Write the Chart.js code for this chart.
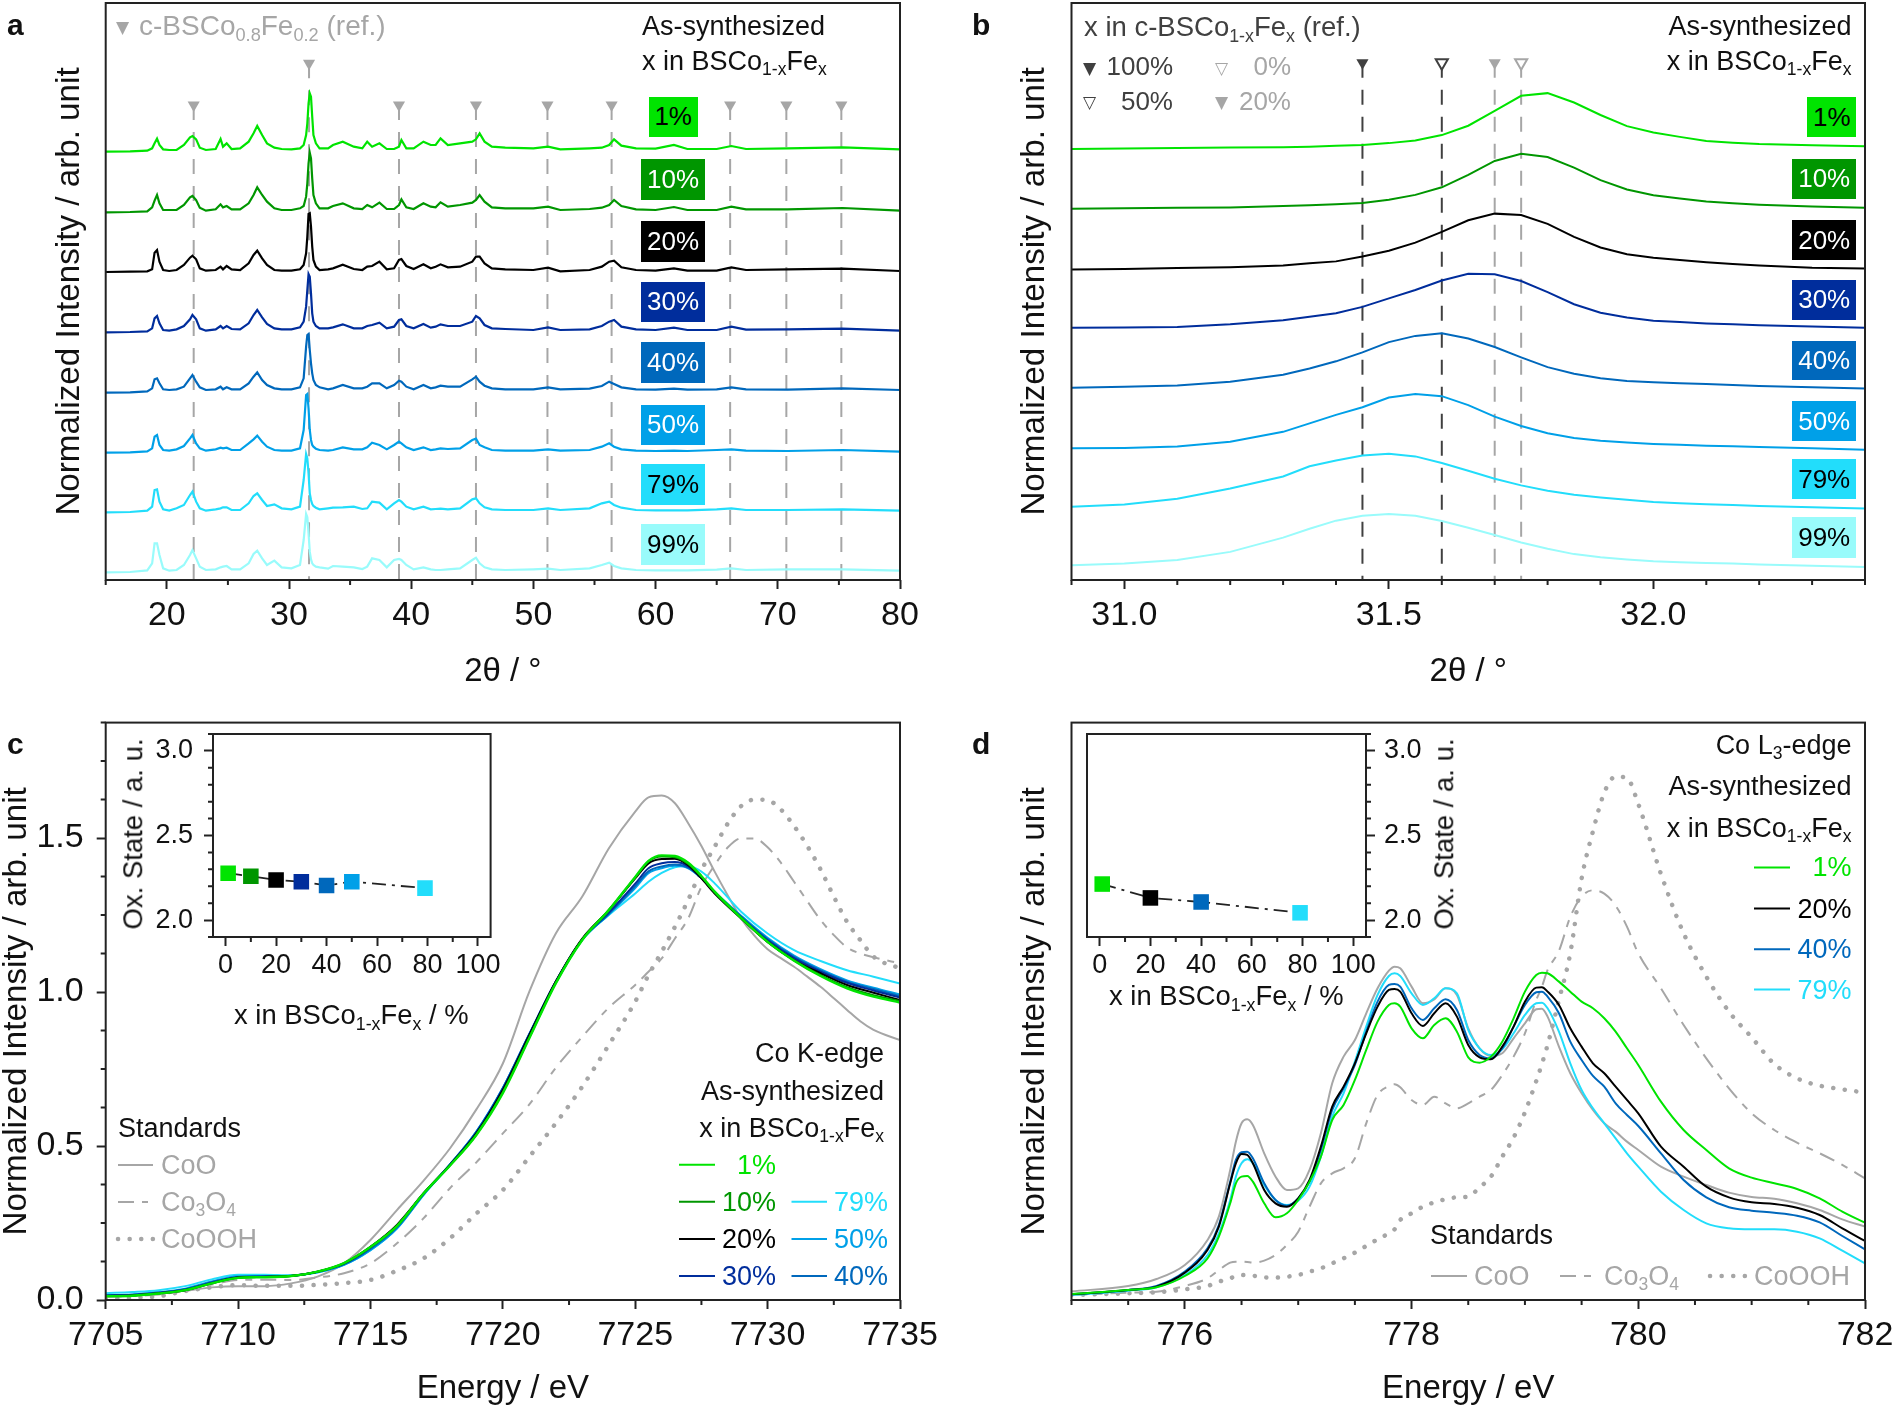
<!DOCTYPE html>
<html>
<head>
<meta charset="utf-8">
<title>BSCo1-xFex</title>
<script src="https://cdn.jsdelivr.net/npm/chart.js@4"></script>
<style>
  html, body { margin: 0; background: #fff; }
  #page { position: relative; width: 1894px; height: 1409px; overflow: hidden; font-family: "Liberation Sans", Arial, sans-serif; color: #111; }
  canvas { position: absolute; }
  .txt { position: absolute; white-space: nowrap; line-height: 1; }
  .txt sub { font-size: 65%; vertical-align: -0.32em; line-height: 0; }
  .tag { position: absolute; display: flex; align-items: center; justify-content: center; font-size: 26px; }
  #swatches { position: absolute; left: 0; top: 0; }
</style>
</head>
<body>
<div id="page"><svg id="swatches" width="1894" height="1409"></svg></div>
<script>
const samplesXrd = ["1%", "10%", "20%", "30%", "40%", "50%", "79%", "99%"];
const colorsXrd = ["#00e400", "#009600", "#000000", "#002d9c", "#0068bc", "#00a0e8", "#22ddfb", "#99fbfb"];
const tagText = ["#000", "#fff", "#fff", "#fff", "#fff", "#fff", "#000", "#000"];

// panel a, 2 theta and height above each trace's baseline (arb. unit)
const xXrd = [15,17,18.4,18.8,19, 19.2,19.4,19.7,20.2,20.8, 21.4,21.9,22.1,22.4,22.7, 23.2,24,24.4,24.6,24.9,
  25.3,26,26.7,27.1,27.4, 27.8,28.2,28.8,29.4,30.2, 30.9,31.2,31.4,31.5,31.6, 31.7,31.8,31.9,32,32.2,
  32.5,33.2,33.6,34.4,35.3, 36,36.4,36.8,37.4,38, 38.6,39,39.2,39.6,40.2, 41,41.6,42,42.4,43,
  44,45,45.3,45.6,46, 46.6,47.7,50,51.2,52.2, 54.6,55.6,56.2,56.6,57.2, 58.4,60,61.5,62.6,65, 66.2,67.4,70.8,75.3,80];
const xrd1 = [0,1,3,10,25, 39,20,7,5,5, 20,43,47,37,12, 5,8,38,15,25,
  8,10,30,55,77, 50,25,12,8,7, 10,20,50,85,145, 175,165,105,50,25,
  10,10,20,30,15, 10,30,15,25,8, 8,15,35,10,10, 30,20,20,40,20,
  25,30,37,55,30, 15,12,10,15,7, 10,12,20,37,18, 10,9,20,8,8, 17,8,10,13,7];
const xrd10 = [0,1,3,15,35, 52,27,7,7,7, 22,45,49,37,14, 5,9,24,15,19,
  9,9,27,52,75, 52,32,12,7,7, 12,19,47,87,147, 179,162,102,52,27,
  12,12,19,27,12, 10,22,15,29,10, 10,22,39,15,10, 27,17,15,30,17,
  22,29,37,52,32, 15,12,12,17,7, 10,14,22,37,19, 9,7,16,7,7, 17,9,9,13,5];
const xrd20 = [0,1,2,8,58, 66,31,6,3,6, 21,43,49,38,11, 4,6,16,8,18,
  8,6,26,51,64, 41,21,6,4,4, 8,21,56,106,174, 176,136,76,36,16,
  6,8,11,22,9, 6,16,18,31,8, 11,36,39,18,9, 23,11,16,23,14,
  16,31,46,46,26, 11,8,6,13,2, 6,16,31,34,14, 6,4,11,4,4, 14,6,8,10,3];
const xrd30 = [0,1,3,12,42, 49,27,7,5,9, 19,39,52,39,12, 5,9,19,12,19,
  10,9,27,52,67, 45,25,12,9,9, 15,32,77,127,175, 167,117,57,32,19,
  12,12,15,24,12, 12,19,22,29,12, 17,37,39,19,12, 25,14,17,24,19,
  19,32,49,42,22, 12,10,7,15,7, 9,19,32,37,17, 9,7,14,7,7, 17,8,9,11,5];
const xrd40 = [0,1,4,13,40, 43,28,10,8,10, 18,43,53,33,16, 8,10,18,10,16,
  10,10,28,48,61, 38,23,13,10,10, 16,43,138,173,176, 128,88,58,38,23,
  16,10,13,23,13, 13,18,28,28,13, 23,36,33,18,10, 23,13,16,21,18,
  18,40,48,33,21, 13,10,10,16,10, 12,20,33,26,16, 10,9,12,9,10, 16,10,9,13,8];
const xrd50 = [0,1,4,13,48, 53,23,8,6,10, 20,43,53,28,13, 6,10,15,13,15,
  8,8,28,40,51, 33,18,8,6,6, 13,68,173,176,133, 68,38,23,18,12,
  8,6,8,16,10, 10,16,30,23,10, 23,33,28,16,8, 16,8,10,13,11,
  13,38,42,23,16, 8,6,6,10,6, 8,18,28,18,10, 6,5,6,5,8, 10,6,5,8,3];
const xrd79 = [0,1,5,17,67, 69,32,9,5,12, 22,52,62,32,12, 5,9,12,15,15,
  7,7,27,49,57, 37,19,24,12,9, 17,97,175,162,117, 57,37,25,19,14,
  9,12,14,15,17, 10,12,32,29,9, 27,37,32,17,9, 17,9,10,11,9,
  12,39,42,27,15, 9,7,7,12,7, 12,27,32,22,14, 7,6,6,6,9, 12,7,7,9,5];
const xrd99 = [0,1,6,27,87, 87,52,12,5,7, 22,52,67,42,17, 7,9,15,17,19,
  9,9,27,55,65, 42,22,35,15,12, 22,97,175,165,117, 62,39,27,22,17,
  15,11,19,17,15, 10,17,42,37,15, 37,40,37,22,9, 15,9,7,7,9,
  12,37,44,27,15, 9,7,9,11,7, 12,22,29,19,12, 7,6,6,6,8, 12,7,9,9,5];
const offsetsXrd = [1285, 1103, 924, 743, 562, 382, 203, 23];
const refsXrd = [22.2, 31.64, 39.0, 45.3, 51.15, 56.4, 66.1, 70.7, 75.2];
const refTopXrd = [1425, 1550, 1425, 1425, 1425, 1425, 1425, 1425, 1425];

// panel b, zoom on the main reflection
const xZoom = [30.9,31.0,31.1,31.2,31.3,31.35,31.4,31.45,31.5,31.55,31.6,31.65,31.7,31.75,31.8,31.85,31.9,31.95,32.0,32.05,32.1,32.15,32.2,32.3,32.4];
const zoom1 = [966,967,968,969,970,971,973,975,979,985,997,1018,1051,1085,1091,1070,1042,1017,1003,993,984,980,977,974,972];
const zoom10 = [832,833,834,835,838,840,842,845,852,863,880,908,939,955,948,924,896,875,862,855,848,844,841,837,834];
const zoom20 = [696,697,699,701,705,710,714,725,738,756,780,806,821,818,798,769,745,730,722,717,712,708,705,700,698];
const zoom30 = [565,566,567,573,582,590,598,612,631,650,671,686,685,670,645,618,599,588,581,578,575,573,571,568,565];
const zoom40 = [431,433,436,444,460,474,490,510,533,547,553,541,522,499,477,462,452,446,443,441,439,437,435,432,429];
const zoom50 = [295,296,299,310,332,351,370,387,409,417,412,392,366,345,329,318,312,308,305,303,301,300,298,295,292];
const zoom79 = [164,169,182,205,232,255,268,279,283,277,262,245,227,212,200,191,185,180,175,172,170,168,166,163,160];
const zoom99 = [33,37,45,63,95,115,133,144,148,144,132,117,101,84,70,58,51,46,42,40,38,37,35,32,29];
const refsZoom = [31.45, 31.6, 31.7, 31.75];
const refTopZoom = 1159;

// panel c, Co K-edge
const xKedge = [7705,7706,7707,7708,7709,7710,7711,7712,7713,7714,7715,7716,7717,7718,7719,7720,7721,7722,7723,7724,
  7725,7725.5,7726,7726.5,7727,7727.5,7728,7729,7730,7731,7732,7733,7734,7735];
const k1 = [.012,.014,.021,.032,.054,.072,.074,.078,.092,.120,.172,.240,.345,.436,.536,.672,.850,1.028,1.169,1.266,
  1.374,1.426,1.444,1.442,1.420,1.377,1.326,1.241,1.163,1.102,1.052,1.012,.985,.966];
const k10 = [.012,.014,.021,.032,.054,.072,.075,.078,.092,.120,.172,.241,.346,.437,.537,.675,.853,1.030,1.171,1.266,
  1.372,1.424,1.440,1.438,1.416,1.374,1.324,1.240,1.163,1.103,1.055,1.016,.990,.971];
const k20 = [.013,.015,.022,.032,.054,.073,.075,.078,.092,.119,.173,.244,.346,.438,.541,.682,.860,1.034,1.174,1.266,
  1.369,1.418,1.432,1.433,1.412,1.369,1.320,1.239,1.163,1.104,1.061,1.023,.998,.974];
const k30 = [.014,.016,.023,.034,.056,.074,.076,.078,.092,.118,.170,.240,.345,.439,.544,.686,.862,1.034,1.172,1.258,
  1.352,1.402,1.418,1.422,1.408,1.370,1.323,1.243,1.168,1.110,1.066,1.030,1.005,.982];
const k40 = [.015,.017,.024,.035,.058,.075,.077,.079,.091,.116,.166,.236,.343,.440,.546,.688,.864,1.034,1.170,1.254,
  1.344,1.392,1.408,1.414,1.404,1.370,1.324,1.245,1.172,1.114,1.070,1.034,1.010,.987];
const k50 = [.016,.018,.025,.037,.060,.077,.078,.079,.090,.114,.162,.232,.341,.440,.547,.689,.864,1.033,1.170,1.252,
  1.338,1.386,1.402,1.410,1.402,1.370,1.326,1.248,1.176,1.118,1.074,1.038,1.014,.992];
const k79 = [.022,.026,.032,.045,.067,.082,.082,.080,.089,.114,.162,.233,.341,.438,.547,.687,.858,1.030,1.169,1.250,
  1.320,1.358,1.387,1.405,1.409,1.391,1.353,1.261,1.190,1.136,1.101,1.071,1.050,1.028];
const xKstd = [7705,7706,7707,7708,7709,7710,7711,7712,7713,7714,7715,7716,7717,7718,7719,7720,7721,7722,7723,7724,
  7725,7725.5,7726,7726.5,7727,7727.5,7728,7728.5,7729,7729.5,7730,7730.5,7731,7731.5,7732,7732.5,7733,7733.5,7734,7735];
const kCoO = [.013,.014,.022,.030,.041,.045,.045,.054,.076,.119,.195,.292,.387,.492,.619,.768,1.001,1.190,1.310,1.466,
  1.586,1.632,1.638,1.613,1.548,1.474,1.391,1.313,1.239,1.183,1.139,1.110,1.082,1.050,1.017,.980,.942,.905,.877,.844];
const kCo3O4 = [.011,.013,.018,.030,.050,.065,.066,.065,.073,.087,.119,.184,.265,.363,.447,.541,.635,.754,.855,.949,
  1.023,1.066,1.109,1.174,1.239,1.342,1.412,1.470,1.499,1.499,1.470,1.420,1.358,1.295,1.234,1.185,1.145,1.125,1.113,1.093];
const kCoOOH = [.005,.007,.012,.029,.041,.048,.046,.046,.049,.055,.065,.095,.135,.200,.281,.357,.465,.574,.693,.828,
  .969,1.055,1.131,1.212,1.299,1.396,1.472,1.548,1.604,1.625,1.623,1.593,1.539,1.474,1.398,1.310,1.228,1.169,1.115,1.077];
const oxKx = [1, 10, 20, 30, 40, 50, 79];
const oxKy = [2.277, 2.259, 2.237, 2.227, 2.205, 2.227, 2.189];
const oxKcolors = ["#00e400", "#009600", "#000000", "#002d9c", "#0068bc", "#00a0e8", "#22ddfb"];

// panel d, Co L3-edge
const xLedge = [775,775.5,775.75,776,776.2, 776.3,776.4,776.45,776.5,776.55, 776.6,776.7,776.8,776.9,777,
  777.1,777.2,777.3,777.4,777.5, 777.6,777.7,777.8,777.85,777.9, 778,778.1,778.2,778.3,778.4,
  778.5,778.6,778.7,778.8,778.9, 779,779.1,779.15,779.2,779.3, 779.4,779.5,779.6,779.7,779.8,
  779.9,780,780.2,780.4,780.6, 780.8,781,781.2,781.4,781.6, 781.8,782];
const l1 = [18,30,38,72,125, 190,290,350,370,372, 355,290,248,260,300, 355,430,540,585,660, 750,835,885,890,880,
  815,785,825,845,805, 728,712,730,775,845, 925,975,982,980,955, 925,895,875,845,805, 755,705,595,510,450, 395,367,350,333,305, 265,232];
const l20 = [17,30,40,82,150, 220,350,410,438,435, 410,330,290,280,305, 360,460,580,640,710, 800,880,930,933,925,
  860,822,860,890,850, 765,728,722,760,820, 895,937,938,925,885, 815,760,710,680,640, 600,560,460,400,340, 308,293,288,277,255, 215,177];
const l40 = [17,30,42,85,155, 225,355,420,443,445, 425,350,300,283,305, 355,450,570,635,705, 805,895,945,948,940,
  875,840,875,902,870, 780,735,725,755,820, 885,923,925,910,860, 775,720,672,640,590, 555,522,440,360,308, 278,268,262,253,233, 192,152];
const l79 = [15,28,38,75,135, 200,300,370,410,422, 410,345,300,285,298, 340,430,550,620,715, 820,915,972,980,972,
  920,885,905,935,920, 810,755,735,752,800, 855,890,892,875,805, 710,630,575,530,485, 440,400,325,270,230, 215,212,212,205,185, 148,110];
const lCoO = [26,42,63,105,180, 250,390,475,530,542, 525,440,370,330,335, 390,500,650,730,780, 860,935,988,1000,995,
  940,890,902,935,915, 815,755,732,740,785, 830,872,874,850,760, 680,620,570,530,505, 475,450,400,370,345, 322,309,304,290,270, 242,220];
const lCo3O4 = [15,22,25,42,65, 90,112,115,115,114, 112,118,135,165,205, 280,350,380,395,425, 530,615,642,647,638,
  600,585,610,590,575, 590,610,630,675,730, 800,900,940,990,1047, 1149,1210,1229,1219,1183, 1120,1040,935,825,725, 635,560,510,472,440, 405,365];
const lCoOOH = [15,20,23,32,42, 55,65,72,75,74, 73,68,67,70,75, 85,95,110,125,142, 162,182,200,212,240,
  260,280,293,302,308, 310,338,370,430,487, 563,657,708,765,900, 1040,1264,1406,1522,1570, 1566,1488,1278,1100,970, 865,788,708,665,643, 632,622];
const oxLx = [1, 20, 40, 79];
const oxLy = [2.213, 2.131, 2.107, 2.043];
const oxLcolors = ["#00e400", "#000000", "#0068bc", "#22ddfb"];

// ticks
const xrdMajor = [20,30,40,50,60,70,80], xrdMinor = [15,25,35,45,55,65,75];
const zoomMajor = [31,31.5,32], zoomMinor = [30.9,31.1,31.2,31.3,31.4,31.6,31.7,31.8,31.9,32.1,32.2,32.3,32.4];
const kxMajor = [7705,7710,7715,7720,7725,7730,7735], kxMinor = [7707.5,7712.5,7717.5,7722.5,7727.5,7732.5];
const kyMajor = [0,.5,1,1.5], kyMinor = [.125,.25,.375,.625,.75,.875,1.125,1.25,1.375,1.625,1.75,1.875];
const lxMajor = [776,778,780,782], lxMinor = [775,775.5,776.5,777,777.5,778.5,779,779.5,780.5,781,781.5];
const oxXMajor = [0,20,40,60,80,100], oxXMinor = [10,30,50,70,90];
const oxYMajor = [2,2.5,3], oxYMinor = [1.9,2.1,2.2,2.3,2.4,2.6,2.7,2.8,2.9,3.1];

const GRAY = "#a6a6a6", DARK = "#404040";
const page = document.getElementById("page");
const points = (xs, ys, off = 0) => xs.map((v, i) => ({ x: v, y: ys[i] + off }));

Chart.defaults.font.family = '"Liberation Sans", Arial, sans-serif';
Chart.defaults.color = "#111";

// black box round the plot and the short ticks Chart.js has no option for
const framePlugin = {
  id: "frame",
  afterDatasetsDraw(chart, args, opts) {
    const { ctx, chartArea: a, scales } = chart;
    ctx.save();
    ctx.strokeStyle = "#222";
    ctx.lineWidth = 2;
    ctx.strokeRect(a.left, a.top, a.right - a.left, a.bottom - a.top);
    ctx.beginPath();
    (opts.minorX || []).forEach(v => {
      const px = scales.x.getPixelForValue(v);
      ctx.moveTo(px, a.bottom);
      ctx.lineTo(px, a.bottom + 5);
    });
    (opts.minorY || []).forEach(v => {
      const py = scales.y.getPixelForValue(v);
      const side = scales.y.position === "right" ? a.right : a.left;
      ctx.moveTo(side, py);
      ctx.lineTo(side + (scales.y.position === "right" ? 5 : -5), py);
    });
    ctx.stroke();
    ctx.restore();
  }
};
Chart.register(framePlugin);

function panel(box, plot, datasets, xCfg, yCfg) {
  const c = document.createElement("canvas");
  c.width = box.r - box.l;
  c.height = box.b - box.t;
  c.style.left = box.l + "px";
  c.style.top = box.t + "px";
  page.appendChild(c);
  const yRight = yCfg.position === "right";
  const tickFont = xCfg.fontSize;
  const axis = (cfg, horiz) => ({
    type: "linear",
    min: cfg.min,
    max: cfg.max,
    position: cfg.position || (horiz ? "bottom" : "left"),
    border: { display: false },
    grid: { drawOnChartArea: false, drawTicks: !!cfg.major, tickLength: 9, tickWidth: 2, tickColor: "#222" },
    ticks: {
      display: !!cfg.major,
      font: { size: tickFont },
      padding: cfg.pad,
      maxRotation: 0,
      autoSkip: false,
      callback: cfg.fmt
    },
    title: cfg.title ? {
      display: true,
      text: cfg.title,
      color: "#111",
      font: { size: cfg.titleSize, lineHeight: 1 },
      padding: cfg.titlePad
    } : { display: false },
    afterBuildTicks: s => { s.ticks = (cfg.major || []).map(v => ({ value: v })); },
    afterFit: s => {
      if (horiz) s.height = box.b - plot.b;
      else s.width = yRight ? box.r - plot.r : plot.l - box.l;
      // labels may overhang, the plot box must not shrink for them
      s.paddingTop = s.paddingBottom = s.paddingLeft = s.paddingRight = 0;
    }
  });
  return new Chart(c, {
    type: "line",
    data: { datasets },
    options: {
      responsive: false,
      animation: false,
      devicePixelRatio: 1,
      layout: { autoPadding: false, padding: { top: plot.t - box.t, right: yRight ? 0 : box.r - plot.r, left: yRight ? plot.l - box.l : 0, bottom: 0 } },
      elements: { point: { radius: 0 } },
      scales: { x: axis(xCfg, true), y: axis(yCfg, false) },
      plugins: {
        legend: { display: false },
        tooltip: { enabled: false },
        frame: { minorX: xCfg.minor, minorY: yCfg.minor }
      }
    }
  });
}

function curve(xs, ys, color, extra) {
  return Object.assign({ data: points(xs, ys), borderColor: color, borderWidth: 2, pointRadius: 0, cubicInterpolationMode: "monotone" }, extra);
}
const stdStyle = {
  CoO: { borderWidth: 2 },
  Co3O4: { borderWidth: 2, borderDash: [16, 8, 7, 8] },
  CoOOH: { borderWidth: 4.5, borderDash: [0.1, 11.5], borderCapStyle: "round" }
};
function refLine(v, top, color, hollow) {
  return {
    data: [{ x: v, y: top }, { x: v, y: 0 }],
    borderColor: color,
    borderWidth: 2,
    borderDash: [15, 12],
    pointStyle: "triangle",
    pointRotation: 180,
    pointRadius: [7, 0],
    pointBackgroundColor: hollow ? "#fff" : color,
    pointBorderColor: color,
    pointBorderWidth: hollow ? 2 : 0
  };
}
function oxSeries(xs, ys, colors) {
  return [{
    data: points(xs, ys),
    borderColor: "#222",
    borderWidth: 1.8,
    borderDash: [14, 6, 3, 6],
    pointStyle: "rect",
    pointRadius: 11,
    pointBackgroundColor: colors,
    pointBorderWidth: 0
  }];
}

const mainY = { title: "Normalized Intensity / arb. unit", titleSize: 33.2 };
const plotSizes = { fontSize: 34, pad: 6, titleSize: 33 };

// a
panel({ l: 0, t: 0, r: 947, b: 700 }, { l: 105.7, t: 3, r: 900, b: 580 },
  [xrd1, xrd10, xrd20, xrd30, xrd40, xrd50, xrd79, xrd99]
    .map((ys, i) => ({ data: points(xXrd, ys, offsetsXrd[i]), borderColor: colorsXrd[i], borderWidth: 2.2, pointRadius: 0 }))
    .concat(refsXrd.map((v, i) => refLine(v, refTopXrd[i], GRAY, false))),
  Object.assign({ min: 15, max: 80, major: xrdMajor, minor: xrdMinor, fmt: v => String(v), title: "2θ / °", titlePad: { top: 0, bottom: 12 } }, plotSizes),
  Object.assign({ min: 0, max: 1731, titlePad: { top: 53, bottom: 0 } }, mainY));

// b
panel({ l: 947, t: 0, r: 1894, b: 700 }, { l: 1071.5, t: 3, r: 1865, b: 580 },
  [zoom1, zoom10, zoom20, zoom30, zoom40, zoom50, zoom79, zoom99]
    .map((ys, i) => ({ data: points(xZoom, ys), borderColor: colorsXrd[i], borderWidth: 2, pointRadius: 0 }))
    .concat([refLine(refsZoom[0], refTopZoom, DARK, false), refLine(refsZoom[1], refTopZoom, DARK, true),
      refLine(refsZoom[2], refTopZoom, GRAY, false), refLine(refsZoom[3], refTopZoom, GRAY, true)]),
  Object.assign({ min: 30.9, max: 32.4, major: zoomMajor, minor: zoomMinor, fmt: v => v.toFixed(1), title: "2θ / °", titlePad: { top: 0, bottom: 12 } }, plotSizes),
  Object.assign({ min: 0, max: 1293, titlePad: { top: 71, bottom: 0 } }, mainY));

// c
panel({ l: 0, t: 700, r: 947, b: 1409 }, { l: 105.7, t: 722.6, r: 900, b: 1300 },
  [curve(xKedge, k1, colorsXrd[0], { borderWidth: 2.4 }), curve(xKedge, k10, colorsXrd[1]), curve(xKedge, k20, colorsXrd[2]),
   curve(xKedge, k30, colorsXrd[3]), curve(xKedge, k40, colorsXrd[4]), curve(xKedge, k50, colorsXrd[5]), curve(xKedge, k79, colorsXrd[6]),
   curve(xKstd, kCoO, GRAY, stdStyle.CoO), curve(xKstd, kCo3O4, GRAY, stdStyle.Co3O4), curve(xKstd, kCoOOH, GRAY, stdStyle.CoOOH)],
  Object.assign({ min: 7705, max: 7735, major: kxMajor, minor: kxMinor, fmt: v => String(v), title: "Energy / eV", titlePad: { top: 0, bottom: 4 } }, plotSizes),
  Object.assign({ min: 0, max: 1.875, major: kyMajor, minor: kyMinor, pad: 13, fmt: v => v.toFixed(1), titlePad: { top: 0, bottom: 0 } }, mainY));

// d
panel({ l: 947, t: 700, r: 1894, b: 1409 }, { l: 1071.5, t: 722.6, r: 1865, b: 1300 },
  [curve(xLedge, l1, colorsXrd[0]), curve(xLedge, l20, colorsXrd[2]), curve(xLedge, l40, colorsXrd[4]), curve(xLedge, l79, colorsXrd[6]),
   curve(xLedge, lCoO, GRAY, stdStyle.CoO), curve(xLedge, lCo3O4, GRAY, stdStyle.Co3O4), curve(xLedge, lCoOOH, GRAY, stdStyle.CoOOH)],
  Object.assign({ min: 775, max: 782, major: lxMajor, minor: lxMinor, fmt: v => String(v), title: "Energy / eV", titlePad: { top: 0, bottom: 4 } }, plotSizes),
  Object.assign({ min: 0, max: 1732, titlePad: { top: 71, bottom: 0 } }, mainY));

// insets
const insetX = { min: -5, max: 105, major: oxXMajor, minor: oxXMinor, fmt: v => String(v), fontSize: 27, pad: 3 };
panel({ l: 110, t: 725, r: 505, b: 985 }, { l: 213, t: 734, r: 490.6, b: 937 }, oxSeries(oxKx, oxKy, oxKcolors), insetX,
  { min: 1.9, max: 3.1, major: oxYMajor, minor: oxYMinor, pad: 11, fmt: v => v.toFixed(1) });
panel({ l: 1075, t: 725, r: 1440, b: 985 }, { l: 1087, t: 734, r: 1366, b: 937 }, oxSeries(oxLx, oxLy, oxLcolors), insetX,
  { min: 1.9, max: 3.1, position: "right", major: oxYMajor, minor: oxYMinor, pad: 9, fmt: v => v.toFixed(1) });

// text and legend samples on top of the plots
function label(html, x, y, o = {}) {
  const d = document.createElement("div");
  d.className = "txt";
  d.innerHTML = html;
  d.style.left = x + "px";
  d.style.top = y + "px";
  d.style.fontSize = (o.size || 27) + "px";
  d.style.color = o.color || "#111";
  if (o.bold) d.style.fontWeight = "bold";
  if (o.family) d.style.fontFamily = o.family;
  const ax = o.align === "right" ? "-100%" : o.align === "center" ? "-50%" : "0";
  d.style.transform = "translate(" + ax + ",-50%)" + (o.rotate ? " rotate(-90deg)" : "");
  page.appendChild(d);
}
function tag(i, l, t, r, b) {
  const d = document.createElement("div");
  d.className = "tag";
  d.textContent = samplesXrd[i];
  d.style.cssText += "left:" + l + "px;top:" + t + "px;width:" + (r - l) + "px;height:" + (b - t) + "px;background:" + colorsXrd[i] + ";color:" + tagText[i];
  page.appendChild(d);
}
function swatch(x1, x2, y, color, style) {
  const s = document.createElementNS("http://www.w3.org/2000/svg", "line");
  s.setAttribute("x1", x1); s.setAttribute("x2", x2); s.setAttribute("y1", y); s.setAttribute("y2", y);
  s.setAttribute("stroke", color);
  s.setAttribute("stroke-width", style === "dot" ? 4.5 : 2);
  if (style === "dash") s.setAttribute("stroke-dasharray", "16 8 7 8");
  if (style === "dot") { s.setAttribute("stroke-dasharray", "0.1 11.5"); s.setAttribute("stroke-linecap", "round"); }
  document.getElementById("swatches").appendChild(s);
}
const formula = "x in BSCo<sub>1-x</sub>Fe<sub>x</sub>";
const MARK = '"DejaVu Sans", sans-serif';

label("a", 7, 25, { bold: true, size: 30 });
label("b", 972, 25, { bold: true, size: 30 });
label("c", 7, 744, { bold: true, size: 30 });
label("d", 972, 744, { bold: true, size: 30 });

// a
label("▼", 116, 27, { size: 17, color: GRAY, family: MARK });
label("c-BSCo<sub>0.8</sub>Fe<sub>0.2</sub> (ref.)", 139, 26, { color: GRAY, size: 28 });
label("As-synthesized", 642, 26);
label(formula, 642, 61);
[[648.7, 96.7, 697.7, 137.3], [641, 159.3, 705, 200], [641, 221.3, 705, 261.7], [641, 281.7, 705, 322],
 [641, 342, 705, 382.6], [641, 404.5, 705, 445], [641, 464, 705, 504.5], [641, 524, 705, 565]]
  .forEach((r, i) => tag(i, r[0], r[1], r[2], r[3]));

// b
label("x in c-BSCo<sub>1-x</sub>Fe<sub>x</sub> (ref.)", 1084, 27, { color: DARK, size: 27.5 });
label("▼", 1083, 68, { size: 17, color: DARK, family: MARK });
label("100%", 1173, 66, { color: DARK, size: 26, align: "right" });
label("▽", 1083, 102, { size: 17, color: DARK, family: MARK });
label("50%", 1173, 101, { color: DARK, size: 26, align: "right" });
label("▽", 1215, 68, { size: 17, color: GRAY, family: MARK });
label("0%", 1291, 66, { color: GRAY, size: 26, align: "right" });
label("▼", 1215, 102, { size: 17, color: GRAY, family: MARK });
label("20%", 1291, 101, { color: GRAY, size: 26, align: "right" });
label("As-synthesized", 1851.5, 26, { align: "right" });
label(formula, 1851.5, 61, { align: "right" });
[[1807.4, 97.3, 137.5], [1792, 158.5, 198.7], [1792, 220, 260], [1792, 279.5, 319.6],
 [1792, 340.6, 380.4], [1792, 401, 441], [1792, 459, 499], [1792, 517.4, 557.6]]
  .forEach((r, i) => tag(i, r[0], r[1], 1856.4, r[2]));

// c
label("x in BSCo<sub>1-x</sub>Fe<sub>x</sub> / %", 234, 1014.5, { size: 27.4 });
label("Ox. State / a. u.", 133, 834, { size: 27.5, align: "center", rotate: true });
label("Co K-edge", 884, 1053, { align: "right" });
label("As-synthesized", 884, 1090.5, { align: "right" });
label(formula, 884, 1127.6, { align: "right" });
[["1%", 0, 1164.7], ["10%", 1, 1201.8], ["20%", 2, 1239], ["30%", 3, 1276]].forEach(e => {
  swatch(679, 715, e[2], colorsXrd[e[1]]);
  label(e[0], 776, e[2], { color: colorsXrd[e[1]], align: "right" });
});
[["79%", 6, 1201.8], ["50%", 5, 1239], ["40%", 4, 1276]].forEach(e => {
  swatch(791.5, 827, e[2], colorsXrd[e[1]]);
  label(e[0], 888, e[2], { color: colorsXrd[e[1]], align: "right" });
});
label("Standards", 118, 1128);
swatch(118, 153, 1165, GRAY);
label("CoO", 161, 1165, { color: GRAY });
swatch(118, 148, 1202, GRAY, "dash");
label("Co<sub>3</sub>O<sub>4</sub>", 161, 1202, { color: GRAY });
swatch(118, 154, 1239, GRAY, "dot");
label("CoOOH", 161, 1239, { color: GRAY });

// d
label("x in BSCo<sub>1-x</sub>Fe<sub>x</sub> / %", 1109, 995.5, { size: 27.4 });
label("Ox. State / a. u.", 1443.7, 834, { size: 27.5, align: "center", rotate: true });
label("Co L<sub>3</sub>-edge", 1851.5, 745, { align: "right" });
label("As-synthesized", 1851.5, 786, { align: "right" });
label(formula, 1851.5, 827.6, { align: "right" });
[["1%", 0, 867.4], ["20%", 2, 908.6], ["40%", 4, 949.3], ["79%", 6, 989.6]].forEach(e => {
  swatch(1754, 1790, e[2], colorsXrd[e[1]]);
  label(e[0], 1851.5, e[2], { color: colorsXrd[e[1]], align: "right" });
});
label("Standards", 1430, 1235);
swatch(1431, 1467, 1276, GRAY);
label("CoO", 1474, 1276, { color: GRAY });
swatch(1560, 1591, 1276, GRAY, "dash");
label("Co<sub>3</sub>O<sub>4</sub>", 1604, 1276, { color: GRAY });
swatch(1710, 1747, 1276, GRAY, "dot");
label("CoOOH", 1754, 1276, { color: GRAY });
</script>
</body>
</html>
